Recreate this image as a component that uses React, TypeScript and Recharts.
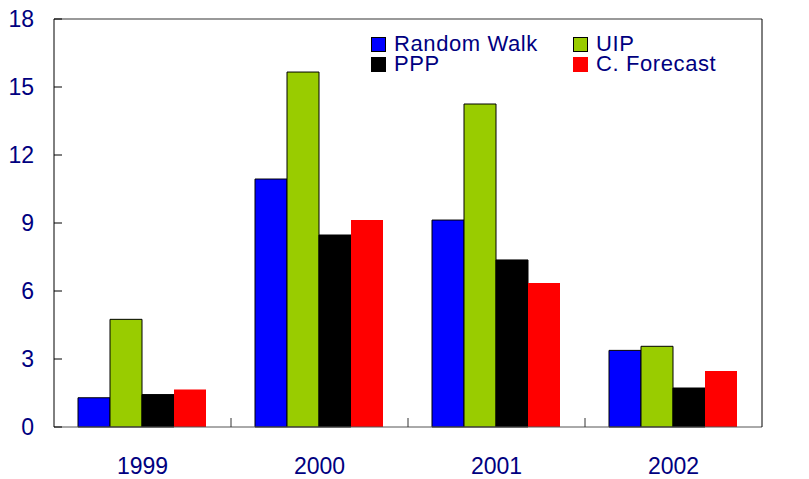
import React from 'react';
import { BarChart, Bar, XAxis, YAxis, ReferenceLine } from 'recharts';

const years = ['1999', '2000', '2001', '2002'];
const randomWalk = [1.29, 10.94, 9.13, 3.38];
const uip = [4.75, 15.66, 14.25, 3.56];
const ppp = [1.43, 8.47, 7.37, 1.72];
const cForecast = [1.65, 9.13, 6.35, 2.47];
const yTicks = [0, 3, 6, 9, 12, 15, 18];

const NAVY = '#000080';
const FONT = '"Liberation Sans", Arial, sans-serif';

const data = years.map((year, i) => ({
  year,
  rw: randomWalk[i],
  uip: uip[i],
  ppp: ppp[i],
  cf: cForecast[i],
}));

const series = [
  { key: 'rw', name: 'Random Walk', color: '#0000ff', stroke: '#000' },
  { key: 'uip', name: 'UIP', color: '#99cc00', stroke: '#000' },
  { key: 'ppp', name: 'PPP', color: '#000000', stroke: '#000' },
  { key: 'cf', name: 'C. Forecast', color: '#ff0000', stroke: 'none' },
];

const LeftTick = ({ x, y, payload }: any) => (
  <g>
    <line x1={x} x2={x + 8} y1={y} y2={y} stroke="#000" />
    <text x={x - 20} y={y} dy="0.36em" textAnchor="end" fill={NAVY} fontSize={23} fontFamily={FONT}>
      {payload.value}
    </text>
  </g>
);

const RightTick = ({ x, y, payload }: any) => (
  <g>
    <line x1={x - 8} x2={x} y1={y} y2={y} stroke="#000" />
    <text x={x + 20} y={y} dy="0.36em" textAnchor="start" fill={NAVY} fontSize={23} fontFamily={FONT}>
      {payload.value}
    </text>
  </g>
);

const BAND = 708 / years.length;

const YearTick = ({ x, y, payload, index }: any) => (
  <g>
    {index < years.length - 1 && (
      <line x1={x + BAND / 2} x2={x + BAND / 2} y1={y} y2={y - 9} stroke="#333" />
    )}
    <text x={x} y={y + 47} textAnchor="middle" fill={NAVY} fontSize={23} fontFamily={FONT}>
      {payload.value}
    </text>
  </g>
);

const LegendBox = () => (
  <div
    style={{
      position: 'absolute',
      left: 371,
      top: 34,
      display: 'grid',
      gridTemplateColumns: '202px 170px',
      fontFamily: FONT,
      fontSize: 22,
      color: NAVY,
      lineHeight: '20px',
    }}
  >
    {series.map((s) => (
      <div key={s.key} style={{ display: 'flex', alignItems: 'center', whiteSpace: 'nowrap', letterSpacing: 0.6 }}>
        <span
          style={{
            display: 'inline-block',
            width: 15,
            height: 15,
            boxSizing: 'border-box',
            background: s.color,
            border: s.stroke === 'none' ? 'none' : '1px solid #000',
            marginRight: 8,
          }}
        />
        {s.name}
      </div>
    ))}
  </div>
);

export default function App() {
  return (
    <div style={{ position: 'absolute', left: 0, top: 0, width: 809, height: 479, background: '#fff' }}>
      <BarChart
        width={809}
        height={479}
        data={data}
        margin={{ top: 19, right: 0, left: 0, bottom: 0 }}
        barCategoryGap={24}
        barGap={0}
      >
        <XAxis
          dataKey="year"
          height={52}
          tickSize={0}
          tickMargin={0}
          tickLine={false}
          axisLine={{ stroke: '#555' }}
          tick={<YearTick />}
          interval={0}
        />
        <YAxis
          yAxisId="left"
          orientation="left"
          width={54}
          domain={[0, 18]}
          ticks={yTicks}
          tickSize={0}
          tickMargin={0}
          tickLine={false}
          axisLine={{ stroke: '#000' }}
          tick={<LeftTick />}
        />
        <YAxis
          yAxisId="right"
          orientation="right"
          width={47}
          domain={[0, 18]}
          ticks={yTicks}
          tickSize={0}
          tickMargin={0}
          tickLine={false}
          axisLine={{ stroke: '#000' }}
          tick={<RightTick />}
        />
        <ReferenceLine yAxisId="left" y={18} stroke="#777" strokeWidth={1.5} />
        {series.map((s) => (
          <Bar
            key={s.key}
            yAxisId="left"
            dataKey={s.key}
            name={s.name}
            fill={s.color}
            stroke={s.stroke}
            strokeWidth={1}
            isAnimationActive={false}
          />
        ))}
      </BarChart>
      <LegendBox />
    </div>
  );
}
